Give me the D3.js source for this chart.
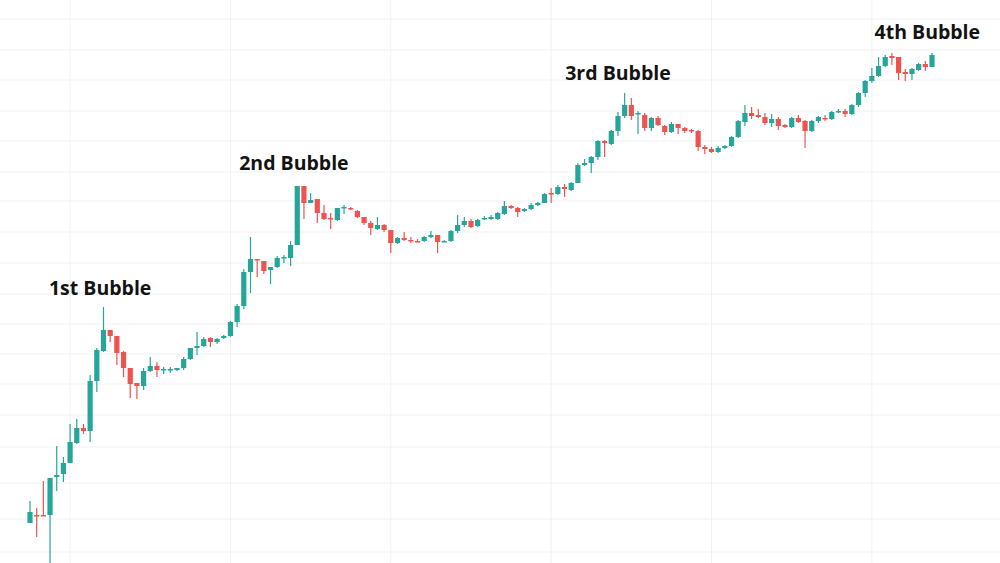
<!DOCTYPE html>
<html><head><meta charset="utf-8">
<script src="https://cdn.jsdelivr.net/npm/d3@7"></script>
<style>body{margin:0;background:#fff}svg{display:block}</style>
</head><body>
<script>
// candles: [open, high, low, close] in relative (log-like) price level units
const candles = [
[40,62,40,51],[48,55,26,47],[48,82,47,47],[48,85,0,85],[86,117,72,88],[89,106,81,100],[100,139,100,121],[120,144,119,135],[135,139,129,132],[132,188,121,182],
[182,215,171,213],[212,256,211,233],[233,233,221,227],[227,227,198,210],[211,212,186,195],[195,195,165,179],[180,180,164,177],[177,195,173,192],[192,206,191,197],[197,201,186,193],
[193,196,189,194],[193,196,190,194],[193,195,192,195],[195,206,193,204],[204,215,203,215],[215,231,208,217],[217,226,216,224],[225,226,216,221],[221,225,219,224],[225,228,224,227],
[227,242,226,241],[241,259,236,257],[257,294,254,291],[291,326,270,304],[304,304,286,303],[302,302,289,292],[293,296,279,296],[296,307,295,305],[305,308,300,306],[305,322,297,318],
[318,377,318,377],[377,377,344,360],[360,370,360,363],[364,364,340,350],[350,358,343,344],[345,350,334,344],[343,355,342,355],[355,358,349,356],[355,356,353,354],[352,353,345,346],
[346,346,338,340],[340,342,328,335],[334,346,333,338],[338,339,331,333],[333,333,310,320],[320,326,319,325],[325,331,322,323],[323,326,320,322],[322,324,321,321],[322,327,321,326],
[326,332,325,328],[328,328,310,321],[322,323,321,322],[322,333,321,332],[332,348,330,338],[338,346,336,342],[342,344,335,336],[337,344,336,343],[344,347,343,345],[344,348,343,346],
[344,351,343,350],[349,362,348,357],[357,358,354,355],[355,356,346,351],[352,355,351,354],[354,360,353,358],[358,361,357,360],[360,370,360,369],[370,375,360,369],[369,378,368,376],
[376,379,366,374],[373,381,372,380],[380,400,380,398],[398,404,397,400],[400,407,390,406],[406,423,403,422],[422,423,406,420],[419,433,418,432],[432,451,427,447],[447,470,445,458],
[458,465,443,447],[449,452,429,450],[448,450,432,435],[435,446,432,445],[445,447,437,438],[437,438,428,431],[431,441,430,439],[439,439,429,435],[435,436,430,432],[433,434,430,432],
[432,433,412,416],[416,418,409,414],[414,416,410,411],[411,417,410,415],[415,418,414,417],[417,427,416,426],[426,443,425,442],[441,458,437,450],[450,456,444,447],[448,454,445,446],
[446,450,438,440],[440,449,436,444],[444,446,433,437],[438,439,435,436],[436,446,435,445],[445,448,440,441],[442,443,415,432],[432,443,431,442],[442,447,440,446],[445,448,442,444],
[444,452,443,451],[451,454,450,452],[452,454,446,449],[449,459,448,458],[458,471,456,470],[470,483,466,482],[482,495,480,487],[487,506,486,497],[497,508,496,506],[507,510,498,505],
[506,506,483,490],[491,494,482,489],[489,495,483,494],[493,500,492,499],[499,502,492,496],[496,510,496,508]
];
const gridLevels = [544,513,483,452,422,391,362,331,300,269,239,209,179,148,116,80,44,11];
const gridCandles = [6,30,54,78,102,126];
const labels = ["1st Bubble","2nd Bubble","3rd Bubble","4th Bubble"];
const labelCandle = [10.5,39.5,88,134.3];
const labelLevel = [268,393,483,524];

const W=1000,H=563;
const svg=d3.select("body").append("svg").attr("width",W).attr("height",H);
const x=d3.scaleLinear().domain([0,135]).range([30,932]);
const y=d3.scaleLinear().domain([0,563]).range([563,0]);

svg.append("g").selectAll("line").data(gridLevels).join("line")
 .attr("x1",0).attr("x2",W).attr("y1",d=>y(d)).attr("y2",d=>y(d))
 .attr("stroke","#eef1f4").attr("stroke-width",1);
svg.append("g").selectAll("line").data(gridCandles).join("line")
 .attr("y1",0).attr("y2",H).attr("x1",d=>x(d)).attr("x2",d=>x(d))
 .attr("stroke","#eef1f4").attr("stroke-width",1);

const up="#26a69a", dn="#ef5350";
const g=svg.append("g").selectAll("g").data(candles).join("g");
g.append("line")
 .attr("x1",(d,i)=>x(i)).attr("x2",(d,i)=>x(i))
 .attr("y1",d=>y(d[1])).attr("y2",d=>y(d[2]))
 .attr("stroke",d=>d[3]>=d[0]?up:dn).attr("stroke-width",1.2);
g.append("rect")
 .attr("x",(d,i)=>x(i)-2.6).attr("width",5.2)
 .attr("y",d=>y(Math.max(d[0],d[3])))
 .attr("height",d=>Math.max(1.5,Math.abs(y(d[0])-y(d[3]))))
 .attr("fill",d=>d[3]>=d[0]?up:dn);

svg.append("g").selectAll("text").data(labels).join("text")
 .attr("x",(d,i)=>x(labelCandle[i]))
 .attr("y",(d,i)=>y(labelLevel[i]))
 .attr("text-anchor","middle")
 .attr("font-family","'Open Sans','Noto Sans',sans-serif")
 .attr("font-weight","700").attr("font-size",19.5).attr("fill","#131313")
 .text(d=>d);
</script>
</body></html>
